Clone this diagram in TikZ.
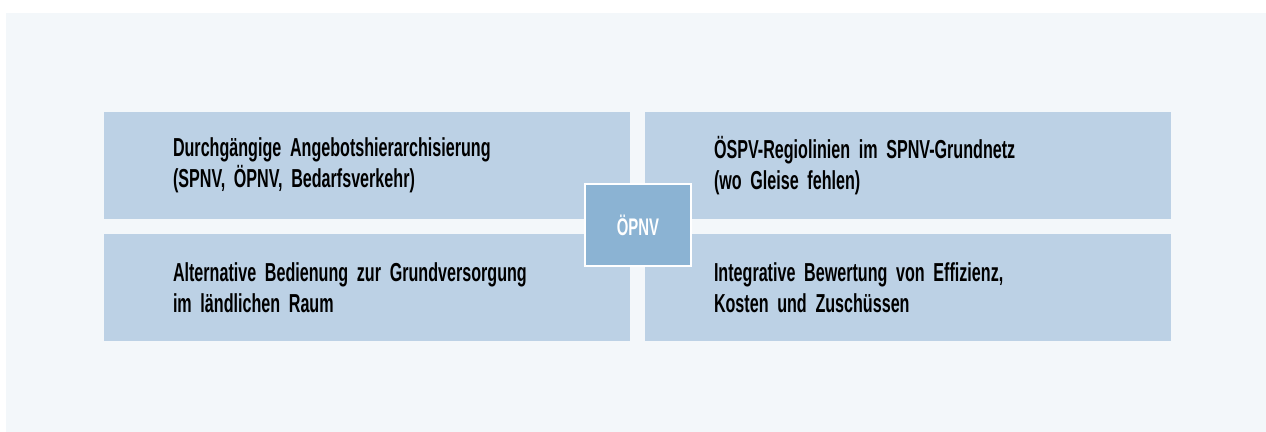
\documentclass[tikz,border=0pt]{standalone}
\usepackage{fontspec}
\usepackage{xcolor}
\usepackage{tikz}
\usetikzlibrary{positioning}
\newfontfamily\condfont{Liberation Sans}[FakeStretch=0.62]
\definecolor{panelbg}{HTML}{F3F7FA}
\definecolor{cellblue}{HTML}{BCD1E5}
\definecolor{hubblue}{HTML}{8BB3D3}
\tikzset{
  cell/.style={rectangle, fill=cellblue, minimum width=263pt, minimum height=53.5pt,
               text width=194pt, inner xsep=34.5pt, inner ysep=0pt, align=left,
               font={\condfont\fontsize{13}{15.5}\selectfont\bfseries\spaceskip=2.2pt\relax},
               text=black},
  hub/.style={rectangle, fill=hubblue, draw=white, line width=1pt,
              minimum width=53pt, minimum height=41pt, inner sep=0pt,
              font=\condfont\fontsize{12}{12}\selectfont\bfseries, text=white},
}
\begin{document}
\begin{tikzpicture}[x=0.5pt, y=-0.5pt]
  \useasboundingbox (0,0) rectangle (1266,432);
  \fill[panelbg] (6,13) rectangle (1266,432);

  \node[cell] (topleft) at (367,165.5)
    {Durchgängige Angebotshierarchisierung\\(SPNV, ÖPNV, Bedarfsverkehr)};
  \node[cell] (topright) at (908,165.5)
    {ÖSPV-Regiolinien im SPNV-Grundnetz\\(wo Gleise fehlen)};
  \node[cell] (botleft) at (367,288)
    {Alternative Bedienung zur Grundversorgung\\im ländlichen Raum};
  \node[cell] (botright) at (908,288)
    {Integrative Bewertung von Effizienz,\\Kosten und Zuschüssen};

  \node[hub] (oepnv) at (638,225) {ÖPNV};
\end{tikzpicture}
\end{document}
